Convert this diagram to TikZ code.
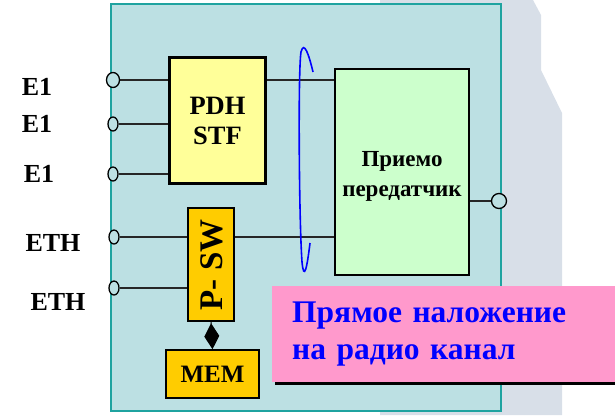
\documentclass[tikz,border=0pt]{standalone}
\usepackage{fontspec}
\setmainfont{Liberation Serif}
\usetikzlibrary{shapes.geometric,arrows.meta,positioning}

\definecolor{panelfill}{HTML}{BCE0E3}
\definecolor{paneledge}{HTML}{1FA3A0}
\definecolor{pdhfill}{HTML}{FFFF99}
\definecolor{trxfill}{HTML}{CCFFCC}
\definecolor{swfill}{HTML}{FFCC00}
\definecolor{notefill}{HTML}{FF99CC}
\definecolor{haze}{HTML}{D8DFE8}

\tikzset{
  block/.style={
    draw,
    line width=1.6pt,
    font=\bfseries,
    align=center,
    inner sep=0pt
  },
  port/.style={
    shape=ellipse,
    draw,
    line width=1.3pt,
    fill=panelfill,
    inner sep=0pt,
    minimum width=10pt,
    minimum height=14pt
  },
  portlabel/.style={
    font=\fontsize{26}{30}\selectfont\bfseries
  },
  wire/.style={
    line width=1.4pt,
    draw=black!85
  }
}

\begin{document}
\begin{tikzpicture}[x=1pt,y=-1pt]
  \useasboundingbox (0,0) rectangle (615,415);

  % faded shape behind the panel
  \fill[haze] (380,0) -- (533,0) -- (541,15) -- (541,70) -- (562,113) -- (562,415) -- (380,415) -- cycle;

  % the station panel
  \draw[fill=panelfill,draw=paneledge,line width=1.4pt] (111,4) rectangle (501,411);

  % blocks
  \node[block,line width=3pt,fill=pdhfill,minimum width=96pt,minimum height=126pt,
        font=\fontsize{26.5}{30}\selectfont\bfseries] (pdh) at (217.5,120.5) {PDH\\STF};
  \node[block,fill=trxfill,minimum width=134pt,minimum height=206pt] (trx) at (402,172) {};
  \node[font=\fontsize{23}{30}\selectfont\bfseries,align=center] (trxtext) at (402,176)
        {Приемо\\передатчик};
  \node[block,fill=swfill,minimum width=46pt,minimum height=113pt] (psw) at (211,264.5) {};
  \node[font=\fontsize{33}{36}\selectfont\bfseries,rotate=90] (pswtext) at (212,265) {P- SW};
  \node[block,fill=swfill,minimum width=93pt,minimum height=48pt,
        font=\fontsize{25}{28}\selectfont\bfseries] (mem) at (212.5,374) {MEM};

  % E1 inputs
  \foreach \i/\y/\ly/\lx in {1/80/87/37,2/124/124/37,3/174/174/39}{
    \node[portlabel] (e1lab\i) at (\lx,\ly) {E1};
    \node[port] (e1\i) at (113,\y) {};
    \draw[wire] (e1\i) -- (e1\i -| pdh.west);
  }
  \node[port,minimum width=13pt,minimum height=15pt] at (e11) {};

  % ETH inputs
  \foreach \i/\y/\ly/\lx in {1/237/243/53,2/288/302/58}{
    \node[portlabel] (ethlab\i) at (\lx,\ly) {ETH};
    \node[port] (eth\i) at (114,\y) {};
    \draw[wire] (eth\i) -- (eth\i -| psw.west);
  }

  % to the transceiver
  \draw[wire] (pdh.east |- e11) -- (trx.west |- e11);
  \draw[wire] (psw.east |- eth1) -- (trx.west |- eth1);

  % antenna output
  \node[port,minimum width=15pt,minimum height=15pt] (out) at (499,201) {};
  \draw[wire] (trx.east |- out) -- (out);

  % memory link
  \draw[line width=1pt,-{Diamond[length=26pt,width=15pt]}] (psw.south) -- (mem.north);

  % loop round both channels
  \draw[blue,line width=1.6pt] (313,72) .. controls (309,55) and (304,40) .. (301,52)
    .. controls (298,70) and (299,220) .. (302,262)
    .. controls (304,282) and (307,268) .. (310,243);

  % note
  \fill[black] (275,289) rectangle (618,385);
  \node[fill=notefill,anchor=north west,minimum width=346pt,minimum height=96pt,
        text width=306pt,inner xsep=20pt,inner ysep=0pt,align=left,text=blue,
        font=\fontsize{31.5}{37}\selectfont\bfseries] (note) at (272,286)
        {Прямое наложение\\на радио канал};
\end{tikzpicture}
\end{document}
